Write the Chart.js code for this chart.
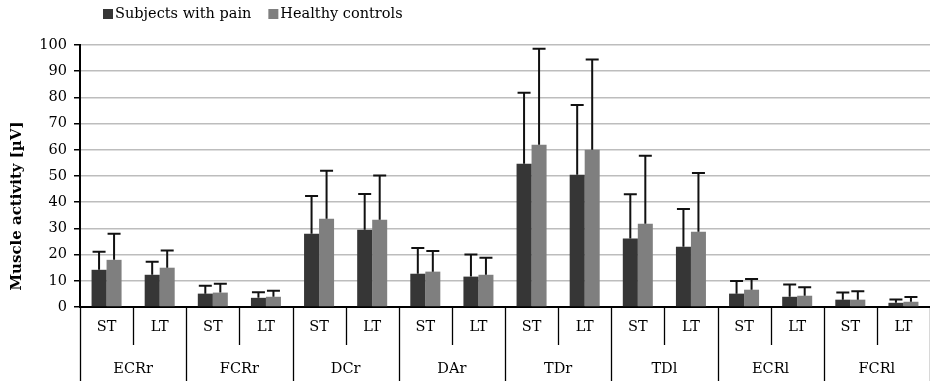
<!DOCTYPE html>
<html>
<head>
<meta charset="utf-8">
<script src="https://cdn.jsdelivr.net/npm/chart.js@4.4.1/dist/chart.umd.min.js"></script>
<style>
  html, body { margin: 0; padding: 0; background: #fff; }
  #wrap { width: 930px; height: 381px; position: relative; }
</style>
</head>
<body>
<div id="wrap"><canvas id="emg-chart"></canvas></div>
<script>
// x categories (two levels)
const categories = ['ST', 'LT', 'ST', 'LT', 'ST', 'LT', 'ST', 'LT', 'ST', 'LT', 'ST', 'LT', 'ST', 'LT', 'ST', 'LT'];
const muscles = ['ECRr', 'FCRr', 'DCr', 'DAr', 'TDr', 'TDl', 'ECRl', 'FCRl'];

// means and SD (upper error bar)
const painMean = [14.2, 12.3, 5.1, 3.5, 28.0, 29.5, 12.7, 11.6, 54.7, 50.5, 26.1, 23.0, 5.1, 3.9, 2.8, 1.6];
const painSD   = [6.9, 5.0, 3.0, 2.1, 14.4, 13.6, 9.8, 8.4, 27.1, 26.6, 16.9, 14.4, 4.8, 4.7, 2.7, 1.3];
const ctrlMean = [18.0, 15.0, 5.5, 3.9, 33.7, 33.3, 13.5, 12.3, 61.9, 60.0, 31.8, 28.7, 6.6, 4.3, 2.8, 2.0];
const ctrlSD   = [10.0, 6.6, 3.4, 2.3, 18.3, 16.9, 7.9, 6.5, 36.7, 34.5, 25.9, 22.4, 4.1, 3.2, 3.2, 1.8];

const seriesNames = ['Subjects with pain', 'Healthy controls'];
const yTicks = [0, 10, 20, 30, 40, 50, 60, 70, 80, 90, 100];
const yTitle = 'Muscle activity [µV]';

const FONT = '"DejaVu Serif", "Liberation Serif", serif';
const sdBySet = [painSD, ctrlSD];

// upward error bars, drawn from the bar tops
const errorBars = {
    id: 'errorBars',
    afterDatasetsDraw(chart) {
        const ctx = chart.ctx;
        const y = chart.scales.y;
        ctx.save();
        ctx.strokeStyle = '#111';
        ctx.lineWidth = 2;
        chart.data.datasets.forEach((ds, i) => {
            const meta = chart.getDatasetMeta(i);
            meta.data.forEach((bar, j) => {
                const top = y.getPixelForValue(ds.data[j] + sdBySet[i][j]);
                ctx.beginPath();
                ctx.moveTo(bar.x, bar.y);
                ctx.lineTo(bar.x, top);
                ctx.moveTo(bar.x - 6.5, top);
                ctx.lineTo(bar.x + 6.5, top);
                ctx.stroke();
            });
        });
        ctx.restore();
    }
};

// two-level category axis, y title and legend
const axisAndLegend = {
    id: 'axisAndLegend',
    afterDraw(chart) {
        const ctx = chart.ctx;
        const x = chart.scales.x;
        const bottom = chart.chartArea.bottom;
        const n = categories.length;
        const edge = (i) => {
            if (i === 0) return x.left;
            if (i === n) return x.right;
            return (x.getPixelForValue(i - 1) + x.getPixelForValue(i)) / 2;
        };
        ctx.save();
        ctx.strokeStyle = '#000';
        ctx.lineWidth = 1.3;
        for (let i = 0; i <= n; i++) {
            const bx = Math.round(edge(i)) + 0.5;
            ctx.beginPath();
            ctx.moveTo(bx, bottom);
            ctx.lineTo(bx, i % 2 === 0 ? chart.height : bottom + 38);
            ctx.stroke();
        }
        ctx.fillStyle = '#000';
        ctx.font = '14.5px ' + FONT;
        ctx.textAlign = 'center';
        ctx.textBaseline = 'middle';
        categories.forEach((c, i) => {
            ctx.fillText(c, x.getPixelForValue(i), bottom + 20);
        });
        muscles.forEach((m, g) => {
            ctx.fillText(m, (edge(2 * g) + edge(2 * g + 2)) / 2, bottom + 62);
        });

        // legend
        const colors = chart.data.datasets.map(d => d.backgroundColor);
        let lx = 103;
        ctx.textAlign = 'left';
        seriesNames.forEach((name, i) => {
            ctx.fillStyle = colors[i];
            ctx.fillRect(lx, 9, 10, 10);
            ctx.fillStyle = '#000';
            ctx.fillText(name, lx + 12, 14);
            lx += 12 + ctx.measureText(name).width + 17;
        });

        // y axis title, centred on plot + category rows
        ctx.translate(17, 206);
        ctx.rotate(-Math.PI / 2);
        ctx.textAlign = 'center';
        ctx.font = 'bold 15px ' + FONT;
        ctx.fillText(yTitle, 0, 0);
        ctx.restore();
    }
};

new Chart(document.getElementById('emg-chart'), {
    type: 'bar',
    data: {
        labels: categories,
        datasets: [{
            label: seriesNames[0],
            data: painMean,
            backgroundColor: '#363636',
            categoryPercentage: 0.565,
            barPercentage: 1
        }, {
            label: seriesNames[1],
            data: ctrlMean,
            backgroundColor: '#7f7f7f',
            categoryPercentage: 0.565,
            barPercentage: 1
        }]
    },
    options: {
        responsive: true,
        maintainAspectRatio: false,
        animation: false,
        layout: { padding: { top: 45, right: 0, bottom: 0, left: 0 } },
        plugins: {
            legend: { display: false },
            tooltip: { enabled: false }
        },
        scales: {
            x: {
                ticks: { display: false },
                grid: { display: false },
                border: { display: true, color: '#000', width: 2 },
                afterFit(scale) { scale.height = 74; }
            },
            y: {
                min: 0,
                max: 100,
                afterBuildTicks(scale) { scale.ticks = yTicks.map(v => ({ value: v })); },
                ticks: { color: '#000', padding: 7, font: { family: FONT, size: 14.5 } },
                grid: {
                    color: (c) => c.tick && c.tick.value === 0 ? 'rgba(0,0,0,0)' : '#bdbdbd',
                    lineWidth: 1.5,
                    tickColor: '#000',
                    tickLength: 6
                },
                border: { color: '#000', width: 2 },
                afterFit(scale) { scale.width = 80; }
            }
        }
    },
    plugins: [errorBars, axisAndLegend]
});
</script>
</body>
</html>
